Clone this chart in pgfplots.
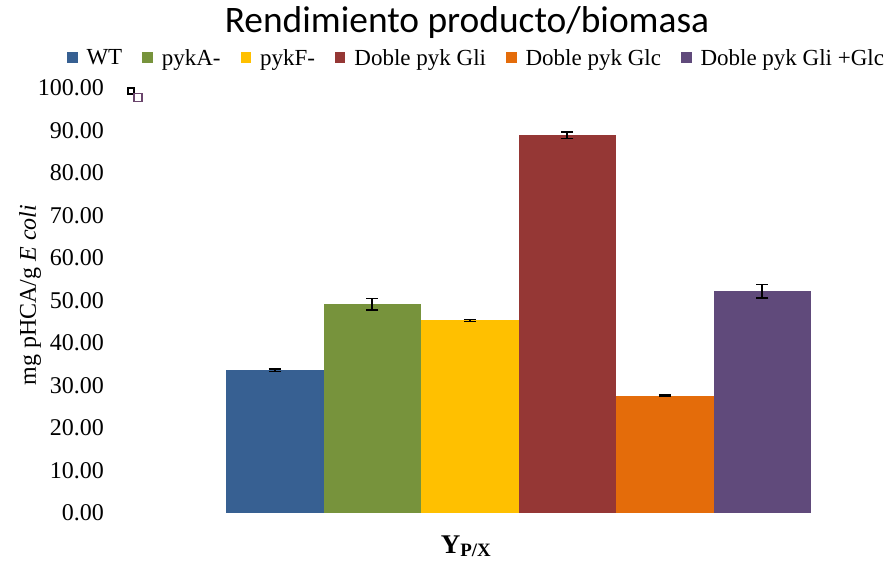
\documentclass[border=0pt]{standalone}
\usepackage{pgfplots}
\pgfplotsset{compat=1.18}
\usepackage{fontspec}
\setmainfont{Liberation Serif}
\newfontfamily\titlefont{Carlito}
\definecolor{cwt}{HTML}{376092}
\definecolor{cpyka}{HTML}{77933C}
\definecolor{cpykf}{HTML}{FFC000}
\definecolor{cgli}{HTML}{953735}
\definecolor{cglc}{HTML}{E46C0A}
\definecolor{cgliglc}{HTML}{604A7B}
\begin{document}
\begin{tikzpicture}
\useasboundingbox (0pt,0pt) rectangle (889pt,-565pt);
\begin{axis}[
  at={(128pt,-513pt)}, anchor=south west,
  scale only axis, width=752pt, height=425pt,
  xmin=-0.5051, xmax=7.2077, ymin=0, ymax=100,
  clip=false,
  axis line style={draw=none},
  major tick length=0pt,
  xtick=\empty,
  ytick={0,10,...,100},
  yticklabel style={anchor=east, inner sep=0pt, xshift=-24pt, font=\fontsize{24}{28}\selectfont},
  /pgf/number format/assume math mode=true,
  /pgf/number format/.cd, fixed, fixed zerofill, precision=2, /pgfplots/.cd,
  title={\titlefont Rendimiento producto/biomasa},
  title style={at={(axis description cs:0.4508,1.1176)}, anchor=base, inner sep=0pt, font=\fontsize{37.4}{44}\selectfont},
  ylabel={mg pHCA/g \textit{E coli}},
  ylabel style={at={(axis description cs:-0.1303,0.5129)}, anchor=center, rotate=0, inner sep=0pt, font=\fontsize{24}{28}\selectfont},
  xlabel={\textbf{Y\textsubscript{P/X}}},
  xlabel style={at={(axis description cs:0.4495,-0.0941)}, anchor=base, inner sep=0pt, font=\fontsize{27}{32}\selectfont},
  legend columns=6,
  legend style={at={(axis description cs:0.4628,1.0706)}, anchor=center, draw=none, fill=none,
    font=\fontsize{23}{27}\selectfont,
    /tikz/every odd column/.append style={column sep=8pt},
    /tikz/every even column/.append style={column sep=19pt},
    nodes={inner sep=1pt}},
  legend image code/.code={\fill[#1] (0pt,-5pt) rectangle (10.5pt,5.5pt);},
  bars/.style={ybar, bar width=1, bar shift=0pt, draw=none, fill=#1,
    error bars/.cd, y dir=both, y explicit,
    error bar style={black, line width=1.6pt},
    error mark options={black, rotate=90, mark size=6pt, line width=1.6pt}},
]
\addplot[bars=cwt] coordinates {(1,33.6) +- (0,0.3)};
\addlegendentry{WT}
\addplot[bars=cpyka] coordinates {(2,49.1) +- (0,1.4)};
\addlegendentry{pykA-}
\addplot[bars=cpykf] coordinates {(3,45.3) +- (0,0.2)};
\addlegendentry{pykF-}
\addplot[bars=cgli] coordinates {(4,88.9) +- (0,0.8)};
\addlegendentry{Doble pyk Gli}
\addplot[bars=cglc] coordinates {(5,27.6) +- (0,0.2)};
\addlegendentry{Doble pyk Glc}
\addplot[bars=cgliglc] coordinates {(6,52.2) +- (0,1.6)};
\addlegendentry{Doble pyk Gli +Glc}
\addplot[only marks, mark=square, mark size=3pt, draw=black, line width=1.2pt, forget plot] coordinates {(-0.474,99.29)};
\addplot[only marks, mark=square, mark size=4pt, draw=cgliglc!80!cgli, line width=1.4pt, forget plot] coordinates {(-0.403,97.76)};
\end{axis}
\end{tikzpicture}
\end{document}
